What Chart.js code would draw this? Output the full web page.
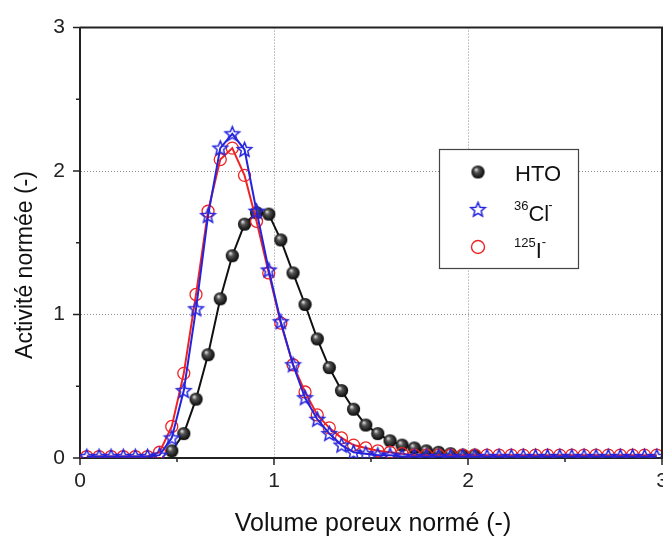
<!DOCTYPE html>
<html>
<head>
<meta charset="utf-8">
<script src="https://cdn.jsdelivr.net/npm/chart.js@4.4.1/dist/chart.umd.min.js"></script>
<style>
    html, body { margin: 0; padding: 0; background: #fff; overflow: hidden; }
    #wrap { width: 663px; height: 537px; overflow: hidden; }
</style>
</head>
<body>
<div id="wrap"><canvas id="chart" width="700" height="537"></canvas></div>
<script>
// pore volume (normalised), one sample every ~0.0625
const volumes = [
    0.035, 0.098, 0.160, 0.223, 0.285, 0.348, 0.410, 0.473, 0.535, 0.598,
    0.660, 0.723, 0.785, 0.848, 0.910, 0.973, 1.035, 1.098, 1.160, 1.223,
    1.285, 1.348, 1.410, 1.473, 1.535, 1.598, 1.660, 1.723, 1.785, 1.848,
    1.910, 1.973, 2.035, 2.098, 2.160, 2.223, 2.285, 2.348, 2.410, 2.473,
    2.535, 2.598, 2.660, 2.723, 2.785, 2.848, 2.910, 2.973,
];

const htoValues = [
    null, null, null, null, null, null, null, 0.05, 0.17, 0.41,
    0.72, 1.11, 1.41, 1.63, 1.71, 1.70, 1.52, 1.29, 1.07, 0.83,
    0.63, 0.47, 0.34, 0.23, 0.17, 0.12, 0.09, 0.07, 0.05, 0.04,
    0.03, 0.02, 0.02, null, null, null, null, null, null, null,
    null, null, null, null, null, null, null, null,
];

const clValues = [
    0.01, 0.01, 0.01, 0.01, 0.01, 0.01, 0.02, 0.14, 0.47, 1.04,
    1.69, 2.16, 2.26, 2.15, 1.72, 1.31, 0.95, 0.65, 0.42, 0.27,
    0.17, 0.09, 0.04, 0.03, 0.02, 0.02, 0.01, 0.01, 0.01, 0.01,
    0.01, 0.01, 0.01, 0.01, 0.01, 0.01, 0.01, 0.01, 0.01, 0.01,
    0.01, 0.01, 0.01, 0.01, 0.01, 0.01, 0.01, 0.01,
];

const iValues = [
    0.01, 0.01, 0.01, 0.01, 0.01, 0.01, 0.04, 0.22, 0.59, 1.14,
    1.72, 2.08, 2.16, 1.97, 1.65, 1.29, 0.94, 0.65, 0.46, 0.30,
    0.21, 0.14, 0.09, 0.07, 0.05, 0.04, 0.03, 0.02, 0.02, 0.02,
    0.02, 0.02, 0.02, 0.02, 0.02, 0.02, 0.02, 0.02, 0.02, 0.02,
    0.02, 0.02, 0.02, 0.02, 0.02, 0.02, 0.02, 0.02,
];

const tickValues = [0, 1, 2, 3];

const FONT = '"Liberation Sans", Arial, sans-serif';
const RED = '#ee2424';
const BLUE = '#2424dd';

const toPoints = (values) => volumes.map((x, i) => ({ x, y: values[i] }));

// glossy black ball
const makeBall = () => {
    const c = document.createElement('canvas');
    c.width = 15; c.height = 15;
    const g = c.getContext('2d');
    const grad = g.createRadialGradient(5.5, 5, 0.5, 7.5, 7.5, 7);
    grad.addColorStop(0, '#d8d8d8');
    grad.addColorStop(0.3, '#555');
    grad.addColorStop(1, '#000');
    g.fillStyle = grad;
    g.beginPath();
    g.arc(7.5, 7.5, 6.6, 0, Math.PI * 2);
    g.fill();
    return c;
};

// hollow five point star
const makeStar = () => {
    const c = document.createElement('canvas');
    c.width = 19; c.height = 19;
    const g = c.getContext('2d');
    g.strokeStyle = BLUE;
    g.lineWidth = 1.5;
    g.beginPath();
    for (let i = 0; i < 10; i++) {
        const r = i % 2 === 0 ? 7.6 : 3.4;
        const a = -Math.PI / 2 + i * Math.PI / 5;
        const px = 9.5 + r * Math.cos(a);
        const py = 10 + r * Math.sin(a);
        if (i === 0) g.moveTo(px, py); else g.lineTo(px, py);
    }
    g.closePath();
    g.stroke();
    return c;
};

const ball = makeBall();
const star = makeStar();

const intLabel = (v) => (tickValues.includes(v) ? String(v) : '');
const gridColor = (ctx) => (ctx.tick && (ctx.tick.value === 1 || ctx.tick.value === 2) ? '#8c8c8c' : 'rgba(0,0,0,0)');

const framePlugin = {
    id: 'frame',
    afterDraw(chart) {
        const { ctx, chartArea: a, scales } = chart;
        ctx.save();
        ctx.strokeStyle = '#222';
        ctx.lineWidth = 2;
        ctx.beginPath();
        ctx.moveTo(a.left, a.top);
        ctx.lineTo(a.right, a.top);
        ctx.lineTo(a.right, a.bottom);
        ctx.stroke();

        // outward tick marks
        ctx.lineWidth = 1.5;
        ctx.beginPath();
        for (let v = 0; v <= 3; v += 0.5) {
            const len = v % 1 === 0 ? 7 : 4;
            const px = scales.x.getPixelForValue(v);
            ctx.moveTo(px, a.bottom);
            ctx.lineTo(px, a.bottom + len);
            const py = scales.y.getPixelForValue(v);
            ctx.moveTo(a.left, py);
            ctx.lineTo(a.left - len, py);
        }
        ctx.stroke();

        // axis titles
        ctx.fillStyle = '#111';
        ctx.font = `25px ${FONT}`;
        ctx.textAlign = 'center';
        ctx.textBaseline = 'alphabetic';
        ctx.fillText('Volume poreux normé (-)', 373, 531);
        ctx.save();
        ctx.translate(32, 265);
        ctx.rotate(-Math.PI / 2);
        ctx.font = `23px ${FONT}`;
        ctx.fillText('Activité normée (-)', 0, 0);
        ctx.restore();

        // legend box
        ctx.fillStyle = '#fff';
        ctx.fillRect(439, 149, 139, 119);
        ctx.strokeStyle = '#444';
        ctx.lineWidth = 1.2;
        ctx.strokeRect(439.5, 149.5, 139, 119);

        ctx.drawImage(ball, 478 - 7.5, 172 - 7.5);
        ctx.drawImage(star, 478 - 9.5, 210 - 10);
        ctx.strokeStyle = RED;
        ctx.lineWidth = 1.4;
        ctx.beginPath();
        ctx.arc(478, 247, 6.5, 0, Math.PI * 2);
        ctx.stroke();

        ctx.fillStyle = '#111';
        ctx.textAlign = 'left';
        ctx.font = `22px ${FONT}`;
        ctx.fillText('HTO', 515, 181);

        const sup = (txt, x, y) => {
            ctx.font = `13px ${FONT}`;
            ctx.fillText(txt, x, y);
            return x + ctx.measureText(txt).width;
        };
        const big = (txt, x, y) => {
            ctx.font = `22px ${FONT}`;
            ctx.fillText(txt, x, y);
            return x + ctx.measureText(txt).width;
        };
        let x = sup('36', 514, 210);
        x = big('Cl', x, 221);
        sup('-', x - 1, 209);
        x = sup('125', 514, 247);
        x = big('I', x, 258);
        sup('-', x, 246);
        ctx.restore();
    },
};

new Chart(document.getElementById('chart'), {
    type: 'line',
    data: {
        datasets: [
            {
                label: 'HTO',
                data: toPoints(htoValues),
                borderColor: '#111',
                borderWidth: 2,
                pointStyle: ball,
                pointRadius: 7,
                order: 3,
            },
            {
                label: '36Cl-',
                data: toPoints(clValues),
                borderColor: BLUE,
                borderWidth: 2,
                pointStyle: star,
                pointRadius: 8,
                order: 1,
            },
            {
                label: '125I-',
                data: toPoints(iValues),
                borderColor: RED,
                borderWidth: 2,
                pointStyle: 'circle',
                pointRadius: 6,
                pointBorderWidth: 1.3,
                pointBorderColor: RED,
                pointBackgroundColor: 'rgba(0,0,0,0)',
                order: 2,
            },
        ],
    },
    options: {
        responsive: false,
        animation: false,
        devicePixelRatio: 1,
        layout: { padding: { top: 24, right: 38, left: 0, bottom: 0 } },
        plugins: { legend: { display: false }, tooltip: { enabled: false } },
        elements: { line: { tension: 0, spanGaps: false } },
        scales: {
            x: {
                type: 'linear',
                min: 0,
                max: 3,
                afterFit: (s) => { s.height = 79; },
                ticks: {
                    stepSize: 0.5,
                    autoSkip: false,
                    maxRotation: 0,
                    padding: 11,
                    color: '#222',
                    font: { family: FONT, size: 21 },
                    callback: intLabel,
                },
                grid: { color: gridColor, lineWidth: 1, drawTicks: false },
                border: { display: true, color: '#222', width: 2, dash: [1, 2] },
            },
            y: {
                min: 0,
                max: 3,
                afterFit: (s) => { s.width = 80; },
                ticks: {
                    stepSize: 0.5,
                    autoSkip: false,
                    padding: 15,
                    color: '#222',
                    font: { family: FONT, size: 21 },
                    callback: intLabel,
                },
                grid: { color: gridColor, lineWidth: 1, drawTicks: false },
                border: { display: true, color: '#222', width: 2, dash: [1, 2] },
            },
        },
    },
    plugins: [framePlugin],
});
</script>
</body>
</html>
